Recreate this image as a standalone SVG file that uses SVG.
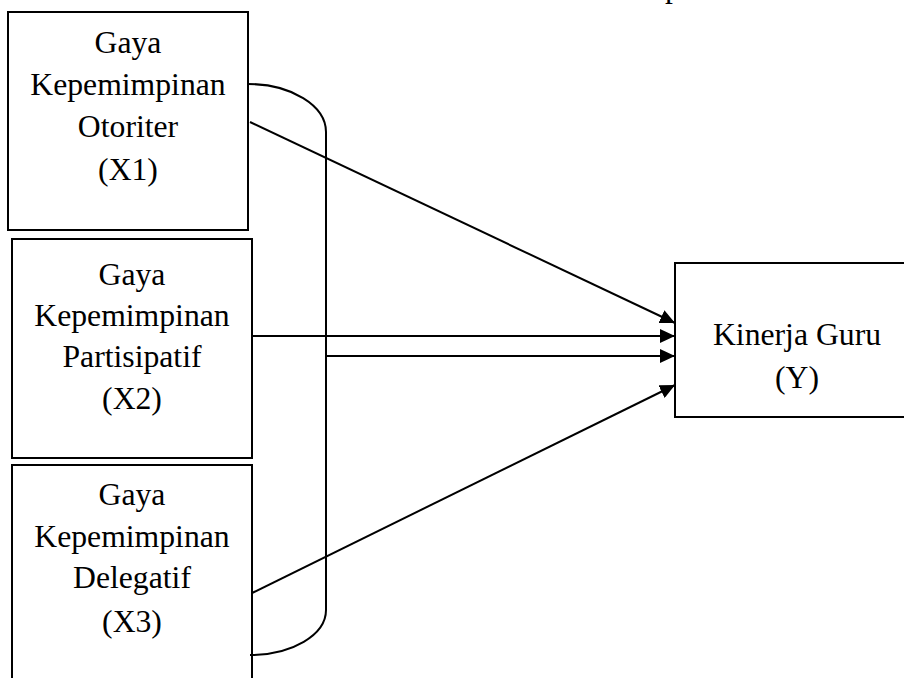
<svg xmlns="http://www.w3.org/2000/svg" width="904" height="678" viewBox="0 0 904 678">
<style>
.box{fill:#fff;stroke:#000;stroke-width:2}
.t{font-family:"Liberation Serif","Times New Roman",serif;font-size:31.7px;fill:#000;text-anchor:middle}
.c{fill:none;stroke:#000;stroke-width:2}
</style>
<defs>
<marker id="ah" markerWidth="15" markerHeight="14" viewBox="0 0 15 14" refX="15" refY="7" orient="auto" markerUnits="userSpaceOnUse">
<path d="M0,0 L15,7 L0,14 Z" fill="#000"/>
</marker>
</defs>
<rect width="904" height="678" fill="#fff"/>
<text class="t" x="673" y="-3">p</text>
<g id="x1">
<rect class="box" x="8" y="12" width="240" height="218"/>
<text class="t" x="128" y="53">Gaya</text>
<text class="t" x="128" y="95">Kepemimpinan</text>
<text class="t" x="128" y="137">Otoriter</text>
<text class="t" x="128" y="180">(X1)</text>
</g>
<g id="x2">
<rect class="box" x="12" y="239" width="240" height="219"/>
<text class="t" x="132" y="285">Gaya</text>
<text class="t" x="132" y="326">Kepemimpinan</text>
<text class="t" x="132" y="367">Partisipatif</text>
<text class="t" x="132" y="409">(X2)</text>
</g>
<g id="x3">
<rect class="box" x="12" y="465" width="240" height="240"/>
<text class="t" x="132" y="505">Gaya</text>
<text class="t" x="132" y="547">Kepemimpinan</text>
<text class="t" x="132" y="588">Delegatif</text>
<text class="t" x="132" y="632">(X3)</text>
</g>
<g id="y">
<rect class="box" x="675" y="263" width="240" height="154"/>
<text class="t" x="797" y="345">Kinerja Guru</text>
<text class="t" x="797" y="388">(Y)</text>
</g>
<g id="connectors">
<path class="c" d="M248,84 A78,48 0 0 1 326,132 L326,610 A76,45 0 0 1 250,655"/>
<line class="c" x1="250" y1="122" x2="675" y2="323" marker-end="url(#ah)"/>
<line class="c" x1="252" y1="336" x2="675" y2="336" marker-end="url(#ah)"/>
<line class="c" x1="326" y1="356" x2="675" y2="356" marker-end="url(#ah)"/>
<line class="c" x1="252" y1="593" x2="675" y2="385" marker-end="url(#ah)"/>
</g>
</svg>
